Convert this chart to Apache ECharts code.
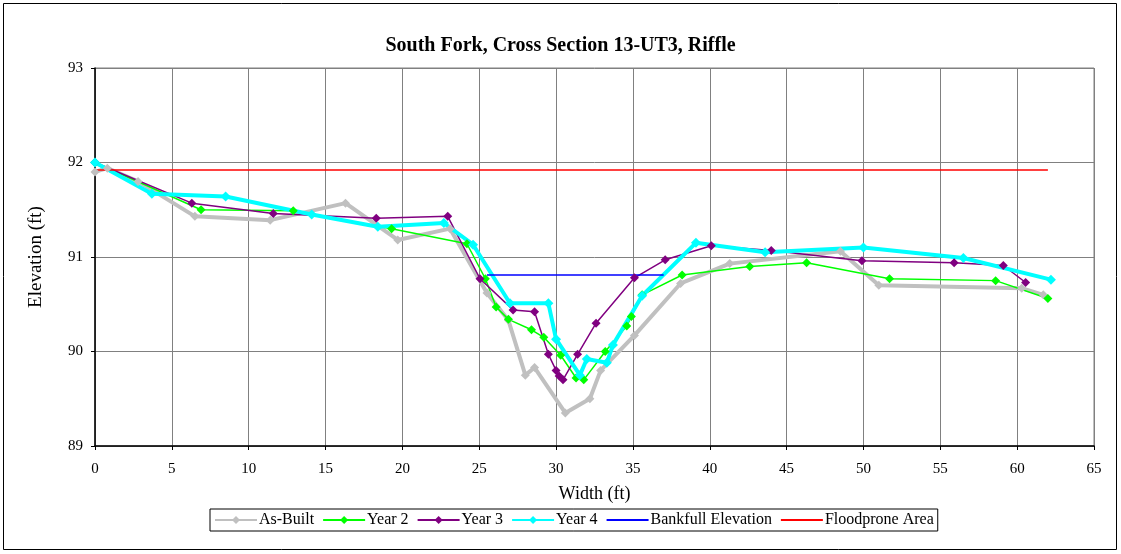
<!DOCTYPE html>
<html>
<head>
<meta charset="utf-8">
<script src="https://cdn.jsdelivr.net/npm/echarts@6/dist/echarts.min.js"></script>
<style>
  html, body { margin: 0; padding: 0; background: #fff; }
  #chart { width: 1121px; height: 554px; }
</style>
</head>
<body>
<div id="chart"></div>
<script>
// Cross-section survey: station (ft) and elevation (ft) for each survey year
const asBuiltX = [0, 0.8, 2.8, 6.5, 11.4, 16.3, 19.7, 23.1, 25.5, 26.9, 28.0, 28.6, 30.6, 32.2, 32.9, 35.1, 38.1, 41.3, 48.5, 51.0, 60.3, 61.7];
const asBuiltY = [91.90, 91.94, 91.80, 91.43, 91.39, 91.57, 91.18, 91.30, 90.62, 90.33, 89.75, 89.83, 89.35, 89.50, 89.80, 90.17, 90.72, 90.93, 91.06, 90.70, 90.67, 90.60];

const year2X = [0, 6.9, 12.9, 19.3, 24.2, 25.4, 26.1, 26.9, 28.4, 29.2, 30.3, 31.3, 31.8, 33.2, 34.6, 34.9, 35.6, 38.2, 42.6, 46.3, 51.7, 58.6, 62.0];
const year2Y = [92.00, 91.50, 91.49, 91.30, 91.14, 90.77, 90.47, 90.34, 90.23, 90.15, 89.96, 89.72, 89.70, 90.00, 90.27, 90.37, 90.60, 90.81, 90.90, 90.94, 90.77, 90.75, 90.56];

const year3X = [0, 6.3, 11.6, 18.3, 22.95, 25.05, 27.2, 28.6, 29.5, 30.0, 30.2, 30.45, 31.4, 32.6, 35.1, 37.1, 40.1, 44.0, 49.9, 55.9, 59.1, 60.55];
const year3Y = [92.00, 91.57, 91.46, 91.41, 91.43, 90.77, 90.44, 90.42, 89.97, 89.80, 89.74, 89.70, 89.97, 90.30, 90.78, 90.97, 91.12, 91.07, 90.96, 90.94, 90.91, 90.73];

const year4X = [0, 3.7, 8.5, 14.1, 18.4, 22.7, 24.6, 27.0, 29.5, 30.0, 31.55, 32.0, 33.3, 33.7, 35.6, 39.1, 43.6, 50.0, 56.5, 62.2];
const year4Y = [92.00, 91.67, 91.64, 91.45, 91.32, 91.36, 91.13, 90.51, 90.51, 90.13, 89.75, 89.92, 89.88, 90.07, 90.59, 91.15, 91.05, 91.10, 90.99, 90.76];

const bankfullX = [25.5, 37.0];
const bankfullY = [90.81, 90.81];

const floodproneX = [0, 62.0];
const floodproneY = [91.92, 91.92];

const xTicks = { min: 0, max: 65, step: 5 };
const yTicks = { min: 89, max: 93, step: 1 };

const pairs = (xs, ys) => xs.map((x, i) => [x, ys[i]]);
const serif = '"Liberation Serif", "DejaVu Serif", serif';

const chart = echarts.init(document.getElementById('chart'), null, { renderer: 'canvas' });

function lineSeries(name, xs, ys, color, width, symbolSize, withSymbol) {
  return {
    name: name,
    type: 'line',
    data: pairs(xs, ys),
    showSymbol: withSymbol,
    symbol: withSymbol ? 'diamond' : 'none',
    symbolSize: symbolSize,
    lineStyle: { color: color, width: width },
    itemStyle: { color: color },
    animation: false,
    silent: true
  };
}

chart.setOption({
  backgroundColor: '#ffffff',
  animation: false,
  title: {
    text: 'South Fork, Cross Section 13-UT3, Riffle',
    left: 'center',
    top: 31,
    textStyle: { fontFamily: serif, fontSize: 20, fontWeight: 'bold', color: '#000' }
  },
  graphic: [{
    type: 'rect',
    shape: { x: 3.5, y: 3.5, width: 1113, height: 546 },
    style: { fill: 'none', stroke: '#000', lineWidth: 1 },
    silent: true,
    z: 100
  }],
  grid: {
    left: 95, top: 68, width: 999, height: 378,
    show: true, borderColor: '#808080', borderWidth: 1, backgroundColor: 'transparent'
  },
  legend: {
    left: 210, top: 509,
    padding: [3, 4, 3, 4],
    itemGap: 8,
    itemWidth: 42,
    itemHeight: 10,
    borderColor: '#000',
    borderWidth: 1,
    textStyle: { fontFamily: serif, fontSize: 16, color: '#000', padding: [0, 0, 0, -3] },
    data: [
      'As-Built', 'Year 2', 'Year 3', 'Year 4',
      { name: 'Bankfull Elevation', itemStyle: { opacity: 0 } },
      { name: 'Floodprone Area', itemStyle: { opacity: 0 } }
    ]
  },
  xAxis: {
    type: 'value',
    min: xTicks.min, max: xTicks.max, interval: xTicks.step,
    name: 'Width (ft)',
    nameLocation: 'middle',
    nameGap: 39,
    nameTextStyle: { fontFamily: serif, fontSize: 18, color: '#000' },
    axisLine: { show: true, onZero: false, lineStyle: { color: '#000', width: 1.5 } },
    axisTick: { show: true, length: 4, lineStyle: { color: '#000' } },
    axisLabel: { fontFamily: serif, fontSize: 15, color: '#000', margin: 16 },
    splitLine: { show: true, lineStyle: { color: '#808080', width: 1 } }
  },
  yAxis: {
    type: 'value',
    min: yTicks.min, max: yTicks.max, interval: yTicks.step,
    name: 'Elevation (ft)',
    nameLocation: 'middle',
    nameGap: 49,
    nameRotate: 90,
    nameTextStyle: { fontFamily: serif, fontSize: 19, color: '#000' },
    axisLine: { show: true, onZero: false, lineStyle: { color: '#000', width: 1.5 } },
    axisTick: { show: true, length: 4, lineStyle: { color: '#000' } },
    axisLabel: { fontFamily: serif, fontSize: 15, color: '#000', margin: 12 },
    splitLine: { show: true, lineStyle: { color: '#808080', width: 1 } }
  },
  series: [
    lineSeries('As-Built', asBuiltX, asBuiltY, '#C0C0C0', 4, 9, true),
    lineSeries('Year 2', year2X, year2Y, '#00FF00', 1.5, 9, true),
    lineSeries('Year 3', year3X, year3Y, '#800080', 1.5, 9, true),
    lineSeries('Year 4', year4X, year4Y, '#00FFFF', 4, 10, true),
    lineSeries('Bankfull Elevation', bankfullX, bankfullY, '#0000FF', 1.5, 0, false),
    lineSeries('Floodprone Area', floodproneX, floodproneY, '#FF0000', 1.5, 0, false)
  ]
});
</script>
</body>
</html>
